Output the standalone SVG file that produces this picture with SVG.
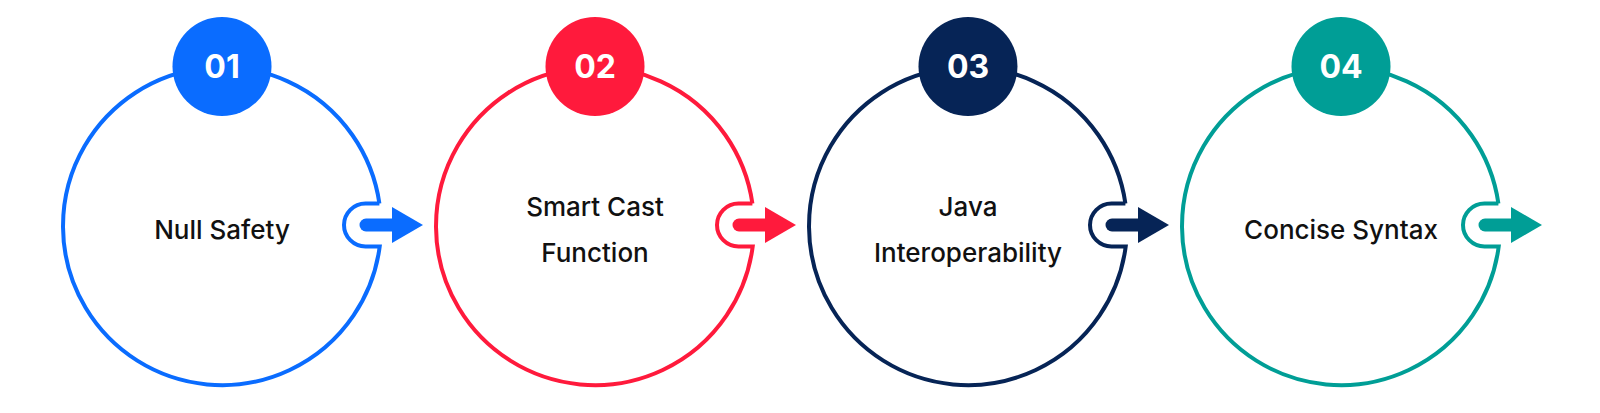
<svg xmlns="http://www.w3.org/2000/svg" width="1600" height="413" viewBox="0 0 1600 413">
  <defs>
    <style>
      .ring { fill: none; stroke-width: 4; }
      .badge-num { font-family: Inter, "Liberation Sans", sans-serif; font-weight: 700; font-size: 32px; fill: #ffffff; text-anchor: middle; }
      .label { font-family: Inter, "Liberation Sans", sans-serif; font-weight: 500; font-size: 26px; fill: #111111; text-anchor: middle; }
      .shaft { stroke-width: 13; stroke-linecap: round; fill: none; }
      .c1 { stroke: #0a6cff; } .f1 { fill: #0a6cff; }
      .c2 { stroke: #ff1a3c; } .f2 { fill: #ff1a3c; }
      .c3 { stroke: #062456; } .f3 { fill: #062456; }
      .c4 { stroke: #009e96; } .f4 { fill: #009e96; }
    </style>
    <path id="ringPath" d="M157.4,-22.5 H143.5 A21.5,21.5 0 0 0 143.5,20.5 H157.7 A159,159 0 1 1 157.4,-22.5" />
  </defs>

  <g id="node1" transform="translate(222,226)">
    <use href="#ringPath" class="ring c1" />
    <circle cx="0" cy="-159.5" r="49.5" class="f1" />
    <text x="0" y="-148.5" class="badge-num">01</text>
    <text x="0" y="12.5" class="label">Null Safety</text>
  </g>

  <g id="node2" transform="translate(595,226)">
    <use href="#ringPath" class="ring c2" />
    <circle cx="0" cy="-159.5" r="49.5" class="f2" />
    <text x="0" y="-159.5" class="badge-num" dy="11">02</text>
    <text x="0" y="-10" class="label">Smart Cast</text>
    <text x="0" y="35.5" class="label">Function</text>
  </g>

  <g id="node3" transform="translate(968,226)">
    <use href="#ringPath" class="ring c3" />
    <circle cx="0" cy="-159.5" r="49.5" class="f3" />
    <text x="0" y="-148.5" class="badge-num">03</text>
    <text x="0" y="-10" class="label">Java</text>
    <text x="0" y="35.5" class="label">Interoperability</text>
  </g>

  <g id="node4" transform="translate(1341,226)">
    <use href="#ringPath" class="ring c4" />
    <circle cx="0" cy="-159.5" r="49.5" class="f4" />
    <text x="0" y="-148.5" class="badge-num">04</text>
    <text x="0" y="12.5" class="label">Concise Syntax</text>
  </g>

  <g id="connectors">
    <g transform="translate(222,225)">
      <line x1="144" y1="0" x2="172" y2="0" class="shaft c1" />
      <polygon points="170,-18 201,0 170,18" class="f1" />
    </g>
    <g transform="translate(595,225)">
      <line x1="144" y1="0" x2="172" y2="0" class="shaft c2" />
      <polygon points="170,-18 201,0 170,18" class="f2" />
    </g>
    <g transform="translate(968,225)">
      <line x1="144" y1="0" x2="172" y2="0" class="shaft c3" />
      <polygon points="170,-18 201,0 170,18" class="f3" />
    </g>
    <g transform="translate(1341,225)">
      <line x1="144" y1="0" x2="172" y2="0" class="shaft c4" />
      <polygon points="170,-18 201,0 170,18" class="f4" />
    </g>
  </g>
</svg>
